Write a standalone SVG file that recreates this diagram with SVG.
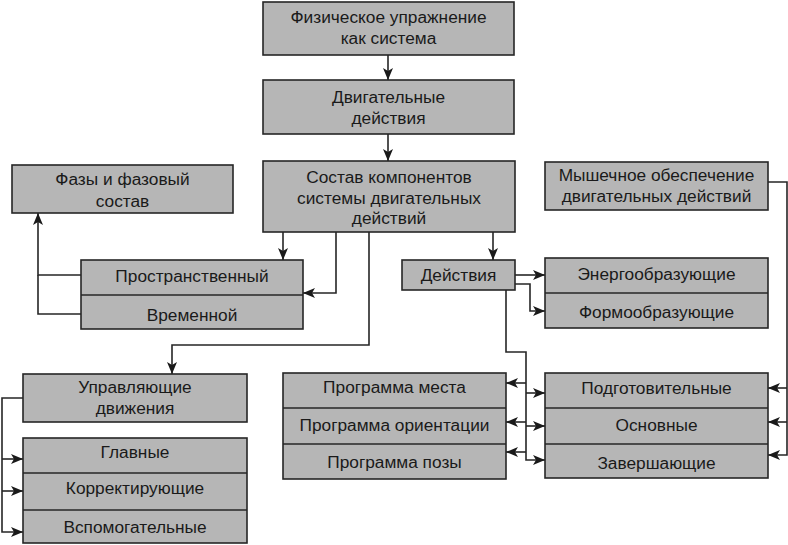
<svg xmlns="http://www.w3.org/2000/svg" width="788" height="545" viewBox="0 0 788 545">
<defs>
<style>
.box{fill:#b6b6b6;stroke:#262626;stroke-width:1.6}
.div{stroke:#262626;stroke-width:1.4;fill:none}
.t{font-family:"Liberation Sans",Arial,sans-serif;font-size:17.3px;fill:#1a1a1a;text-anchor:middle}
.c{fill:none;stroke:#262626;stroke-width:1.6}
.a{marker-end:url(#ah)}
</style>
<marker id="ah" markerUnits="userSpaceOnUse" markerWidth="13" markerHeight="10" refX="12" refY="5" orient="auto">
<path d="M0,0 L12,5 L0,10 L3,5 z" fill="#1a1a1a"/>
</marker>
</defs>
<rect width="788" height="545" fill="#ffffff"/>

<g id="connectors">
<path class="c a" d="M388,55 V80"/>
<path class="c a" d="M388,134 V161"/>
<path class="c a" d="M283,232 V260"/>
<path class="c a" d="M336,232 V293 H303"/>
<path class="c a" d="M369,232 V345 H172 V374"/>
<path class="c a" d="M81,275 H38 V213"/>
<path class="c" d="M81,314 H38 V275"/>
<path class="c a" d="M493,232 V260"/>
<path class="c a" d="M515,275 H545"/>
<path class="c a" d="M515,284 H530 V311 H545"/>
<path class="c a" d="M506,290 V352 H526 V460 H545"/>
<path class="c a" d="M526,393 H545"/>
<path class="c a" d="M526,426 H545"/>
<path class="c a" d="M526,383 H506"/>
<path class="c a" d="M526,422 H506"/>
<path class="c a" d="M526,452 H506"/>
<path class="c a" d="M768,182 H787 V455 H768"/>
<path class="c a" d="M787,388 H768"/>
<path class="c a" d="M787,422 H768"/>
<path class="c a" d="M23,398 H2 V532 H23"/>
<path class="c a" d="M2,459 H23"/>
<path class="c a" d="M2,491 H23"/>
</g>

<g id="n-fiz">
<rect class="box" x="263" y="2" width="251" height="53"/>
<text class="t" x="388.5" y="23">Физическое упражнение</text>
<text class="t" x="388.5" y="44">как система</text>
</g>

<g id="n-dvig">
<rect class="box" x="263" y="80" width="251" height="54"/>
<text class="t" x="388.5" y="103">Двигательные</text>
<text class="t" x="388.5" y="124">действия</text>
</g>

<g id="n-sostav">
<rect class="box" x="263" y="161" width="252" height="71"/>
<text class="t" x="389" y="183">Состав компонентов</text>
<text class="t" x="389" y="204">системы двигательных</text>
<text class="t" x="389" y="224">действий</text>
</g>

<g id="n-fazy">
<rect class="box" x="12" y="165" width="221" height="48"/>
<text class="t" x="122.5" y="185">Фазы и фазовый</text>
<text class="t" x="122.5" y="207">состав</text>
</g>

<g id="n-prostr">
<rect class="box" x="81" y="260" width="222" height="69"/>
<line class="div" x1="81" y1="295" x2="303" y2="295"/>
<text class="t" x="192" y="282">Пространственный</text>
<text class="t" x="192" y="321">Временной</text>
</g>

<g id="n-mysh">
<rect class="box" x="545" y="162" width="223" height="48"/>
<text class="t" x="656.5" y="181">Мышечное обеспечение</text>
<text class="t" x="656.5" y="202">двигательных действий</text>
</g>

<g id="n-deistviya">
<rect class="box" x="402" y="260" width="113" height="30"/>
<text class="t" x="458.5" y="281">Действия</text>
</g>

<g id="n-energo">
<rect class="box" x="545" y="258" width="223" height="70"/>
<line class="div" x1="545" y1="293" x2="768" y2="293"/>
<text class="t" x="656.5" y="280">Энергообразующие</text>
<text class="t" x="656.5" y="318">Формообразующие</text>
</g>

<g id="n-program">
<rect class="box" x="283" y="373" width="223" height="106"/>
<line class="div" x1="283" y1="408" x2="506" y2="408"/>
<line class="div" x1="283" y1="444" x2="506" y2="444"/>
<text class="t" x="394.5" y="393">Программа места</text>
<text class="t" x="394.5" y="431">Программа ориентации</text>
<text class="t" x="394.5" y="468">Программа позы</text>
</g>

<g id="n-podgot">
<rect class="box" x="545" y="373" width="223" height="105"/>
<line class="div" x1="545" y1="408" x2="768" y2="408"/>
<line class="div" x1="545" y1="444" x2="768" y2="444"/>
<text class="t" x="656.5" y="394">Подготовительные</text>
<text class="t" x="656.5" y="431">Основные</text>
<text class="t" x="656.5" y="469">Завершающие</text>
</g>

<g id="n-uprav">
<rect class="box" x="23" y="374" width="224" height="48"/>
<text class="t" x="135" y="393">Управляющие</text>
<text class="t" x="135" y="414">движения</text>
</g>

<g id="n-glavnye">
<rect class="box" x="23" y="438" width="224" height="105"/>
<line class="div" x1="23" y1="473" x2="247" y2="473"/>
<line class="div" x1="23" y1="510" x2="247" y2="510"/>
<text class="t" x="135" y="458">Главные</text>
<text class="t" x="135" y="494">Корректирующие</text>
<text class="t" x="135" y="533">Вспомогательные</text>
</g>
</svg>
